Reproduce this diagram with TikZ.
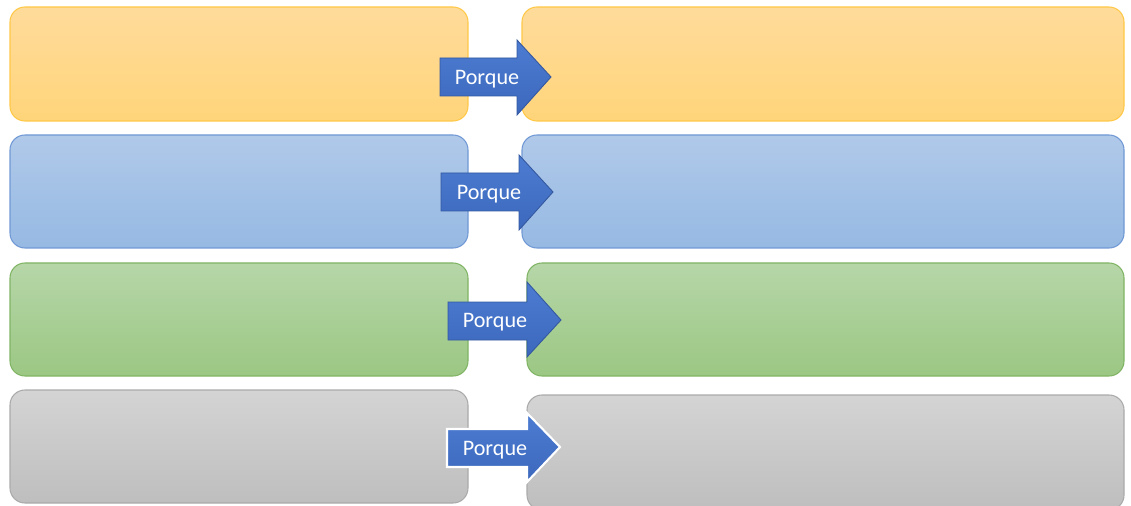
\documentclass[tikz,border=0pt]{standalone}
\usepackage{fontspec}
\setmainfont{Carlito}
\usepackage{tikz}

\definecolor{orHaut}{RGB}{255,219,155}
\definecolor{orBas}{RGB}{255,213,122}
\definecolor{orBord}{RGB}{255,200,70}
\definecolor{blHaut}{RGB}{176,201,233}
\definecolor{blBas}{RGB}{150,185,227}
\definecolor{blBord}{RGB}{112,152,212}
\definecolor{veHaut}{RGB}{182,214,168}
\definecolor{veBas}{RGB}{155,199,131}
\definecolor{veBord}{RGB}{128,180,100}
\definecolor{grHaut}{RGB}{212,212,212}
\definecolor{grBas}{RGB}{190,190,190}
\definecolor{grBord}{RGB}{170,170,170}
\definecolor{flHaut}{RGB}{76,124,210}
\definecolor{flBas}{RGB}{60,104,188}
\definecolor{flBord}{RGB}{52,88,160}

\tikzset{
  boite/.style={rounded corners=8.5pt, line width=0.6pt},
  fleche/.style={top color=flHaut, bottom color=flBas, draw=flBord, line width=0.5pt},
  mot/.style={text=white, font=\fontsize{12.6}{14}\selectfont}
}

\begin{document}
\begin{tikzpicture}[x=0.02cm, y=-0.02cm]
		\useasboundingbox (0,0) rectangle (1131,506);

		% les boites
		\shade [boite, top color=orHaut, bottom color=orBas, draw=orBord] (10,7) rectangle (468,121);
		\shade [boite, top color=orHaut, bottom color=orBas, draw=orBord] (522,7) rectangle (1124,121);
		\shade [boite, top color=blHaut, bottom color=blBas, draw=blBord] (10,135) rectangle (468,248);
		\shade [boite, top color=blHaut, bottom color=blBas, draw=blBord] (522,135) rectangle (1124,248);
		\shade [boite, top color=veHaut, bottom color=veBas, draw=veBord] (10,263) rectangle (468,376);
		\shade [boite, top color=veHaut, bottom color=veBas, draw=veBord] (527,263) rectangle (1124,376);
		\shade [boite, top color=grHaut, bottom color=grBas, draw=grBord] (10,390) rectangle (468,503);
		\shade [boite, top color=grHaut, bottom color=grBas, draw=grBord] (527,395) rectangle (1124,510);

		% les fleches
		\shade [fleche] (440,58) -- (517,58) -- (517,40) -- (551,77) -- (517,115) -- (517,96) -- (440,96) -- cycle;
		\node [mot] (p1) at (487,79) {Porque};
		\shade [fleche] (441,173) -- (519,173) -- (519,155) -- (553,192) -- (519,230) -- (519,211) -- (441,211) -- cycle;
		\node [mot] (p2) at (489,194) {Porque};
		\shade [fleche] (448,302) -- (527,302) -- (527,282) -- (561,320) -- (527,357) -- (527,340) -- (448,340) -- cycle;
		\node [mot] (p3) at (495,322) {Porque};
		\shade [fleche, draw=white, line width=1.2pt] (447,429) -- (527,429) -- (527,413) -- (560,447) -- (527,482) -- (527,467) -- (447,467) -- cycle;
		\node [mot] (p4) at (495,450) {Porque};
\end{tikzpicture}
\end{document}
